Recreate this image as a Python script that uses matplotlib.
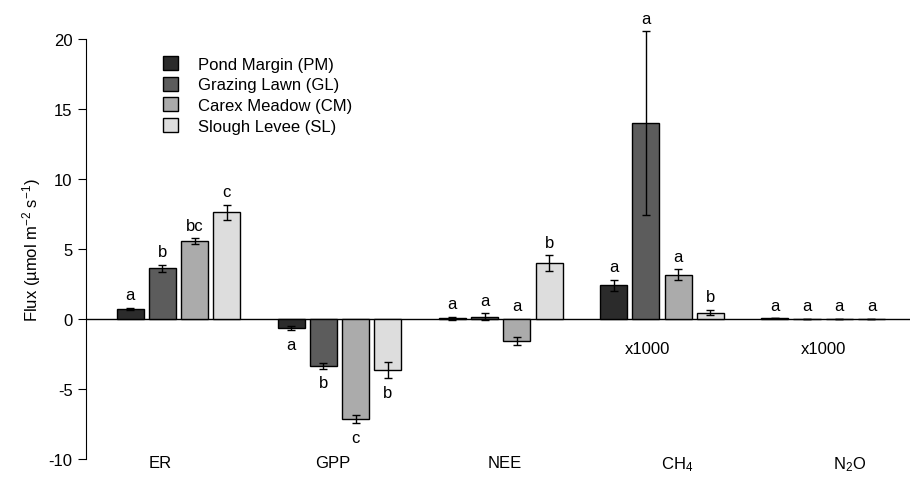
import numpy as np
import matplotlib
matplotlib.use("Agg")
import matplotlib.pyplot as plt

plt.rcParams["font.family"] = ["Liberation Sans", "DejaVu Sans"]
plt.rcParams["mathtext.default"] = "regular"
plt.rcParams["axes.unicode_minus"] = False

groups = ["ER", "GPP", "NEE", "CH$_4$", "N$_2$O"]
sites = ["Pond Margin (PM)", "Grazing Lawn (GL)", "Carex Meadow (CM)", "Slough Levee (SL)"]
colors = ["#2b2b2b", "#5c5c5c", "#ababab", "#dddddd"]

# rows: PM, GL, CM, SL ; columns: ER, GPP, NEE, CH4 (x1000), N2O (x1000)
means = np.array([
    [0.7, -0.65, 0.05, 2.4, 0.05],
    [3.6, -3.35, 0.15, 14.0, 0.01],
    [5.55, -7.15, -1.6, 3.15, 0.01],
    [7.6, -3.65, 4.0, 0.45, 0.01],
])
errs = np.array([
    [0.1, 0.15, 0.1, 0.4, 0.0],
    [0.25, 0.2, 0.25, 6.55, 0.0],
    [0.2, 0.3, 0.3, 0.4, 0.0],
    [0.55, 0.6, 0.55, 0.2, 0.0],
])
letters = [
    ["a", "a", "a", "a", "a"],
    ["b", "b", "a", "a", "a"],
    ["bc", "c", "a", "a", "a"],
    ["c", "b", "b", "b", "a"],
]
letter_below = [False, True, False, False, False]
scale_notes = [None, None, None, "x1000", "x1000"]

fig = plt.figure(figsize=(9.12, 4.81), dpi=100)
ax = fig.add_axes([0.094, 0.044, 0.904, 0.873])

x = np.arange(len(groups))
w = 0.2
for j in range(len(sites)):
    pos = x + (j - 1.5) * w
    ax.bar(pos, means[j], width=0.168, color=colors[j], edgecolor="black",
           linewidth=1, label=sites[j], zorder=2)
    ax.errorbar(pos, means[j], yerr=errs[j], fmt="none", ecolor="black",
                elinewidth=1, capsize=3, capthick=1, clip_on=False, zorder=3)
    for i in range(len(groups)):
        if letter_below[i]:
            y = means[j, i] - errs[j, i]
            ax.annotate(letters[j][i], (pos[i], y), xytext=(0, -5),
                        textcoords="offset points", ha="center", va="top",
                        fontsize=12, annotation_clip=False)
        else:
            y = max(means[j, i] + errs[j, i], 0)
            ax.annotate(letters[j][i], (pos[i], y), xytext=(0, 4),
                        textcoords="offset points", ha="center", va="bottom",
                        fontsize=12, annotation_clip=False)

for i, note in enumerate(scale_notes):
    if note:
        ax.text(x[i] - 0.09 if i == 3 else x[i], -2.1, note, ha="center",
                va="center", fontsize=12)

ax.axhline(0, color="black", linewidth=1, zorder=1)
ax.set_xlim(-0.575, 4.54)
ax.set_ylim(-10, 20)
ax.set_yticks([-10, -5, 0, 5, 10, 15, 20])
ax.set_xticks(x * 1.07 - 0.115)
ax.set_xticklabels(groups, fontsize=12)
ax.tick_params(axis="x", length=0, pad=-3)
ax.tick_params(axis="y", length=6, labelsize=12, direction="out")
for s in ["top", "right", "bottom"]:
    ax.spines[s].set_visible(False)
ax.set_ylabel("Flux (µmol m$^{-2}$ s$^{-1}$)", fontsize=12, labelpad=4)

ax.legend(loc="upper left", bbox_to_anchor=(0.075, 0.995), frameon=False,
          fontsize=12, handlelength=0.9, handleheight=0.9, labelspacing=0.3,
          handletextpad=1.2)

fig.savefig("out.png", dpi=100)
